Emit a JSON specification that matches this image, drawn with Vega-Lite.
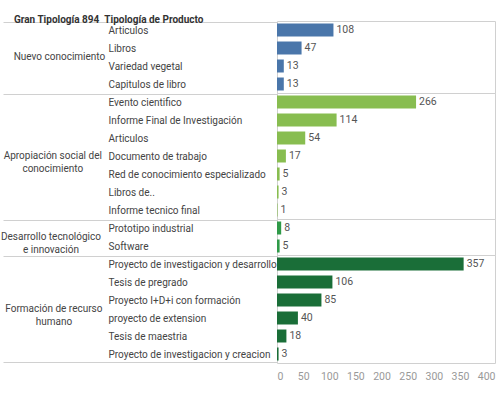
{
  "$schema": "https://vega.github.io/schema/vega-lite/v6.json",
  "padding": {"left": 0, "top": 14, "right": 5, "bottom": 5},
  "background": "white",
  "title": {
    "text": "Gran Tipología 894\u00a0\u00a0Tipología de Producto",
    "anchor": "start",
    "frame": "bounds",
    "dx": 13,
    "fontSize": 10,
    "fontWeight": "bold",
    "color": "#333333",
    "font": "Roboto",
    "offset": -9
  },
  "data": {
    "values": [
      {"group": "Nuevo conocimiento", "product": "Articulos", "value": 108},
      {"group": "Nuevo conocimiento", "product": "Libros", "value": 47},
      {"group": "Nuevo conocimiento", "product": "Variedad vegetal", "value": 13},
      {"group": "Nuevo conocimiento", "product": "Capitulos de libro", "value": 13},
      {"group": "Apropiación social del conocimiento", "product": "Evento cientifico", "value": 266},
      {"group": "Apropiación social del conocimiento", "product": "Informe Final de Investigación", "value": 114},
      {"group": "Apropiación social del conocimiento", "product": "Articulos", "value": 54},
      {"group": "Apropiación social del conocimiento", "product": "Documento de trabajo", "value": 17},
      {"group": "Apropiación social del conocimiento", "product": "Red de conocimiento especializado", "value": 5},
      {"group": "Apropiación social del conocimiento", "product": "Libros de..", "value": 3},
      {"group": "Apropiación social del conocimiento", "product": "Informe tecnico final", "value": 1},
      {"group": "Desarrollo tecnológico e innovación", "product": "Prototipo industrial", "value": 8},
      {"group": "Desarrollo tecnológico e innovación", "product": "Software", "value": 5},
      {"group": "Formación de recurso humano", "product": "Proyecto de investigacion y desarrollo", "value": 357},
      {"group": "Formación de recurso humano", "product": "Tesis de pregrado", "value": 106},
      {"group": "Formación de recurso humano", "product": "Proyecto I+D+i con formación", "value": 85},
      {"group": "Formación de recurso humano", "product": "proyecto de extension", "value": 40},
      {"group": "Formación de recurso humano", "product": "Tesis de maestria", "value": 18},
      {"group": "Formación de recurso humano", "product": "Proyecto de investigacion y creacion", "value": 3}
    ]
  },
  "facet": {
    "row": {
      "field": "group",
      "type": "nominal",
      "sort": ["Nuevo conocimiento", "Apropiación social del conocimiento", "Desarrollo tecnológico e innovación", "Formación de recurso humano"],
      "header": {
        "title": null,
        "labelAngle": 0,
        "labelAlign": "center",
        "labelBaseline": "middle",
        "labelPadding": 126,
        "labelFont": "Roboto",
        "labelFontSize": 10,
        "labelColor": "#444444",
        "labelLineHeight": 13,
        "labelExpr": "datum.value == 'Apropiación social del conocimiento' ? ['Apropiación social del', 'conocimiento'] : datum.value == 'Desarrollo tecnológico e innovación' ? ['Desarrollo tecnológico', 'e innovación'] : datum.value == 'Formación de recurso humano' ? ['Formación de recurso', 'humano'] : datum.value"
      }
    }
  },
  "spacing": 0,
  "bounds": "flush",
  "resolve": {"scale": {"y": "independent"}},
  "spec": {
    "width": 218,
    "height": {"step": 18},
    "encoding": {
      "y": {
        "field": "product",
        "type": "nominal",
        "sort": "-x",
        "axis": {
          "title": null,
          "domain": false,
          "tickBand": "extent",
          "tickSize": 274,
          "tickColor": "#d0d0d0",
          "tickWidth": 1,
          "tickOpacity": {"condition": {"test": "datum.extra || datum.value === 'Proyecto de investigacion y creacion'", "value": 1}, "value": 0},
          "labelAlign": "left",
          "labelPadding": -105,
          "labelFont": "Roboto",
          "labelFontSize": 10,
          "labelColor": "#444444",
          "labelLimit": 250
        }
      },
      "x": {
        "field": "value",
        "type": "quantitative",
        "scale": {"domain": [0, 417], "nice": false},
        "axis": {
          "title": null,
          "grid": false,
          "domain": false,
          "ticks": false,
          "values": [0, 50, 100, 150, 200, 250, 300, 350, 400],
          "labelFont": "Roboto",
          "labelFontSize": 10.5,
          "labelColor": "#999999",
          "labelPadding": 8
        }
      }
    },
    "layer": [
      {
        "mark": {"type": "bar", "size": 13},
        "encoding": {
          "color": {
            "field": "group",
            "type": "nominal",
            "scale": {
              "domain": ["Nuevo conocimiento", "Apropiación social del conocimiento", "Desarrollo tecnológico e innovación", "Formación de recurso humano"],
              "range": ["#4a76aa", "#88bd50", "#2f9a48", "#1a6e38"]
            },
            "legend": null
          }
        }
      },
      {
        "mark": {"type": "text", "align": "left", "dx": 3, "font": "Roboto", "fontSize": 10.5, "color": "#555555"},
        "encoding": {"text": {"field": "value", "type": "quantitative"}}
      }
    ]
  },
  "config": {
    "view": {"stroke": "#d0d0d0", "strokeWidth": 1}
  }
}
